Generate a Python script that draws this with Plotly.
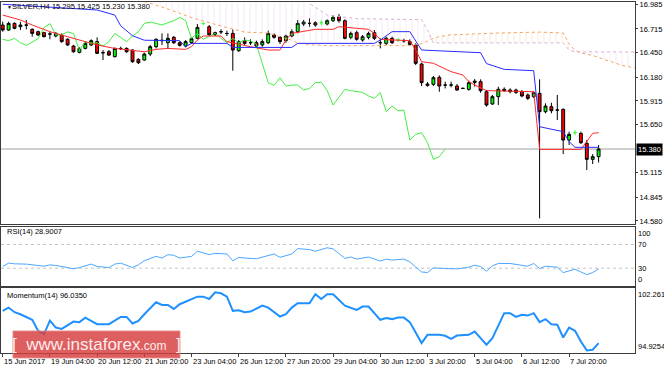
import numpy as np
import plotly.graph_objects as go

# ---------------- data ----------------
symbol = "SILVER,H4"
bars = list(range(102))
opens = [16.759, 16.703, 16.777, 16.740, 16.760, 16.711, 16.685, 16.674, 16.660, 16.637,
         16.648, 16.600, 16.525, 16.455, 16.499, 16.537, 16.574, 16.452, 16.462, 16.407,
         16.499, 16.499, 16.481, 16.377, 16.370, 16.436, 16.518, 16.590, 16.562, 16.622,
         16.562, 16.525, 16.562, 16.611, 16.775, 16.740, 16.674, 16.685, 16.666, 16.666,
         16.473, 16.585, 16.563, 16.562, 16.537, 16.562, 16.648, 16.622, 16.585, 16.637,
         16.685, 16.770, 16.778, 16.785, 16.785, 16.770, 16.807, 16.852, 16.807, 16.622,
         16.674, 16.592, 16.622, 16.674, 16.563, 16.555, 16.611, 16.592, 16.585, 16.574,
         16.537, 16.325, 16.103, 16.099, 16.177, 16.092, 16.092, 16.080, 16.055, 16.043,
         16.135, 16.129, 16.017, 15.881, 15.962, 16.044, 16.036, 16.036, 16.018, 15.981,
         15.962, 15.999, 15.795, 15.851, 15.814, 15.821, 15.480, 15.562, 15.554, 15.443,
         15.265, 15.295]
highs = [16.796, 16.796, 16.789, 16.796, 16.815, 16.722, 16.696, 16.685, 16.685, 16.681,
         16.666, 16.611, 16.537, 16.510, 16.570, 16.600, 16.622, 16.481, 16.481, 16.510,
         16.518, 16.510, 16.488, 16.388, 16.451, 16.537, 16.611, 16.666, 16.666, 16.637,
         16.577, 16.592, 16.622, 16.770, 16.790, 16.759, 16.685, 16.711, 16.696, 16.711,
         16.592, 16.622, 16.600, 16.585, 16.600, 16.696, 16.666, 16.637, 16.651, 16.711,
         16.815, 16.815, 16.833, 16.800, 16.815, 16.822, 16.870, 16.881, 16.822, 16.685,
         16.696, 16.648, 16.685, 16.703, 16.611, 16.629, 16.629, 16.614, 16.607, 16.600,
         16.555, 16.340, 16.125, 16.192, 16.199, 16.129, 16.129, 16.103, 16.062, 16.140,
         16.158, 16.155, 16.036, 15.981, 16.073, 16.066, 16.055, 16.051, 16.036, 15.999,
         16.021, 16.155, 15.888, 15.895, 15.981, 15.832, 15.573, 15.591, 15.573, 15.480,
         15.324, 15.425]
lows = [16.685, 16.696, 16.711, 16.703, 16.711, 16.629, 16.637, 16.622, 16.600, 16.622,
        16.562, 16.525, 16.451, 16.444, 16.488, 16.525, 16.436, 16.370, 16.414, 16.399,
        16.481, 16.451, 16.340, 16.325, 16.362, 16.414, 16.499, 16.537, 16.499, 16.548,
        16.518, 16.510, 16.548, 16.600, 16.760, 16.637, 16.637, 16.659, 16.637, 16.251,
        16.462, 16.537, 16.537, 16.510, 16.518, 16.548, 16.607, 16.548, 16.562, 16.622,
        16.666, 16.748, 16.740, 16.740, 16.755, 16.755, 16.792, 16.785, 16.600, 16.600,
        16.585, 16.574, 16.600, 16.592, 16.499, 16.537, 16.548, 16.570, 16.562, 16.533,
        16.314, 16.080, 16.073, 16.080, 16.017, 16.054, 16.066, 16.029, 16.047, 16.029,
        16.073, 16.006, 15.851, 15.870, 15.870, 16.014, 15.999, 15.992, 15.955, 15.925,
        15.947, 14.609, 15.777, 15.777, 15.703, 15.324, 15.425, 15.532, 15.436, 15.146,
        15.213, 15.230]
closes = [16.703, 16.777, 16.722, 16.759, 16.757, 16.666, 16.648, 16.629, 16.658, 16.666,
          16.574, 16.537, 16.462, 16.499, 16.555, 16.585, 16.444, 16.450, 16.425, 16.499,
          16.497, 16.462, 16.351, 16.340, 16.436, 16.518, 16.600, 16.585, 16.611, 16.562,
          16.533, 16.574, 16.607, 16.733, 16.775, 16.651, 16.651, 16.683, 16.664, 16.481,
          16.574, 16.555, 16.562, 16.525, 16.574, 16.666, 16.622, 16.574, 16.637, 16.685,
          16.777, 16.792, 16.777, 16.759, 16.785, 16.807, 16.844, 16.807, 16.611, 16.666,
          16.600, 16.629, 16.666, 16.611, 16.562, 16.611, 16.562, 16.592, 16.584, 16.544,
          16.333, 16.118, 16.088, 16.173, 16.080, 16.091, 16.091, 16.036, 16.054, 16.118,
          16.122, 16.029, 15.869, 15.962, 16.044, 16.029, 16.018, 16.010, 15.970, 15.944,
          16.007, 15.795, 15.858, 15.806, 15.813, 15.480, 15.543, 15.562, 15.450, 15.265,
          15.295, 15.380]

x_tick_bars = [0, 8, 16, 24, 32, 40, 48, 56, 64, 72, 80, 88, 96]
x_tick_labels = ["15 Jun 2017", "19 Jun 04:00", "20 Jun 12:00", "21 Jun 20:00",
                 "23 Jun 04:00", "26 Jun 12:00", "27 Jun 20:00", "29 Jun 04:00",
                 "30 Jun 12:00", "3 Jul 20:00", "5 Jul 04:00", "6 Jul 12:00", "7 Jul 20:00"]
price_ticks = [16.985, 16.715, 16.450, 16.180, 15.915, 15.650, 15.115, 14.845, 14.580]

# Ichimoku lines
tenkan_x = [0, 3, 5, 8, 11, 14, 16, 19, 22, 24, 26, 28, 31, 32, 33, 34, 37, 38, 42, 45,
            47, 48, 49, 51, 53, 56, 57, 62, 63, 64, 69, 70, 71, 73, 75, 76, 78, 79, 80, 82,
            90, 91, 98, 99, 100, 101]
tenkan_y = [16.870, 16.815, 16.759, 16.685, 16.629, 16.574, 16.537, 16.499, 16.481, 16.462,
            16.488, 16.499, 16.488, 16.518, 16.592, 16.637, 16.637, 16.574, 16.518, 16.481,
            16.481, 16.592, 16.666, 16.685, 16.711, 16.711, 16.740, 16.711, 16.666, 16.599,
            16.585, 16.481, 16.351, 16.333, 16.277, 16.240, 16.203, 16.130, 16.092, 16.029,
            16.018, 15.376, 15.376, 15.462, 15.554, 15.562]
kijun_x = [0, 11, 16, 19, 20, 22, 24, 30, 31, 32, 38, 39, 49, 50, 63, 64, 66, 69, 71, 81,
           82, 85, 90, 91, 94, 95, 96, 97, 101]
kijun_y = [16.990, 16.944, 16.926, 16.870, 16.750, 16.640, 16.590, 16.585, 16.518, 16.555,
           16.555, 16.510, 16.510, 16.555, 16.555, 16.592, 16.685, 16.685, 16.481, 16.451,
           16.330, 16.266, 16.251, 15.628, 15.591, 15.573, 15.462, 15.399, 15.399]
chikou_shift = 26
span_x = [23, 27, 30, 32, 38, 41, 45, 49, 50, 52, 55, 60, 69, 71, 72, 73, 74, 76, 84, 91,
          95, 96, 97, 98, 100, 105, 108]
span_a = [17.04, 16.96, 16.89, 16.84, 16.73, 16.68, 16.67, 16.59, 16.56, 16.54,
          16.53, 16.53, 16.53, 16.55, 16.58, 16.61, 16.63, 16.65, 16.67, 16.68,
          16.67, 16.55, 16.48, 16.45, 16.42, 16.31, 16.27]
span_b = [17.20, 17.20, 17.20, 17.20, 17.20, 17.20, 17.20, 17.20, 17.15, 17.00,
          16.87, 16.83, 16.82, 16.82, 16.70, 16.56, 16.56, 16.56, 16.56, 16.56,
          16.56, 16.48, 16.46, 16.46, 16.46, 16.46, 16.46]

# RSI(14)
rsi_x = [0, 1, 2, 4, 6, 7, 8, 9, 11, 12, 13, 15, 16, 18, 19, 20, 22, 23, 24, 26,
         27, 28, 29, 30, 32, 33, 35, 36, 38, 39, 40, 41, 43, 45, 46, 47, 49, 50, 52, 53,
         55, 56, 58, 59, 60, 62, 64, 65, 66, 68, 69, 70, 71, 72, 73, 75, 77, 79, 80, 81,
         82, 83, 84, 86, 88, 89, 90, 91, 92, 94, 95, 97, 98, 99, 100, 101]
rsi_y = [32.9, 38.6, 37.4, 36.9, 34.6, 33.4, 35.7, 34.6, 31.1, 28.9,
         31.1, 36.9, 32.9, 31.1, 36.9, 38.6, 31.1, 35.7, 42.6, 50.0,
         47.1, 52.9, 51.7, 47.1, 50.0, 58.6, 52.9, 55.1, 54.0, 42.6,
         48.3, 47.1, 46.0, 51.7, 54.0, 48.3, 54.0, 63.1, 61.4, 58.6,
         64.5, 62.6, 46.6, 48.9, 45.4, 48.9, 42.0, 45.4, 43.7, 45.4,
         40.9, 32.0, 23.7, 22.6, 30.6, 29.4, 28.9, 31.7, 35.1, 32.9,
         24.9, 34.0, 38.0, 38.0, 35.1, 33.4, 38.0, 29.4, 33.4, 31.7,
         22.6, 28.3, 23.7, 19.1, 22.6, 28.9007]
rsi_levels = [70, 30]
rsi_scale_labels = [100, 70, 30, 0]

# Momentum(14)
mom_x = [0, 1, 2, 3, 5, 6, 7, 8, 9, 10, 12, 13, 14, 16, 18, 20, 21, 22, 23, 24,
         26, 27, 28, 29, 30, 32, 33, 34, 35, 36, 37, 38, 39, 40, 41, 42, 44, 45, 47, 48,
         49, 50, 52, 53, 54, 55, 56, 58, 60, 61, 62, 64, 65, 66, 67, 68, 69, 71, 72, 74,
         75, 76, 77, 79, 80, 81, 82, 83, 85, 86, 87, 88, 89, 90, 91, 92, 93, 94, 95, 96,
         97, 98, 99, 100, 101]
mom_y = [99.68, 100.05, 99.53, 99.30, 98.67, 97.43, 97.06, 98.59, 97.80, 97.65,
         98.47, 98.41, 98.92, 98.18, 98.18, 99.00, 99.00, 98.25, 98.55, 99.30,
         100.65, 100.35, 100.35, 99.90, 100.43, 101.02, 101.28, 101.28, 101.02, 101.78,
         101.66, 101.28, 99.68, 99.75, 99.53, 99.60, 100.27, 100.05, 99.04, 99.30,
         100.05, 100.54, 100.54, 101.55, 101.02, 101.55, 101.55, 100.27, 99.79, 100.16,
         100.16, 98.67, 98.86, 98.75, 98.92, 98.92, 98.41, 96.05, 96.98, 96.98,
         96.87, 96.53, 96.90, 96.98, 97.35, 96.60, 95.86, 96.60, 99.42, 99.42,
         99.00, 99.23, 99.15, 99.42, 98.41, 98.75, 98.18, 98.11, 96.68, 97.80,
         97.43, 96.23, 95.22, 95.30, 96.035]
mom_scale_labels = [102.2612, 94.9254]

# ---------------- figure ----------------
FRAME = "#3c3c3c"
FONT = "Liberation Sans, Arial, sans-serif"
xr = [-0.29, 107.17]

fig = go.Figure()

# Ichimoku cloud (hatched)
sa = np.array(span_a)
sb = np.array(span_b)
upper = np.maximum(sa, sb)
fig.add_trace(go.Scatter(x=span_x, y=sb, mode="lines", line=dict(width=0), hoverinfo="skip"))
fig.add_trace(go.Scatter(x=span_x, y=upper, mode="lines", line=dict(width=0), fill="tonexty",
                         fillcolor="rgba(0,0,0,0)",
                         fillpattern=dict(shape="|", fgcolor="rgba(244,164,96,0.55)", size=6,
                                          solidity=0.15, fillmode="overlay"),
                         hoverinfo="skip"))
fig.add_trace(go.Scatter(x=span_x, y=sa, mode="lines", line=dict(width=0), hoverinfo="skip"))
fig.add_trace(go.Scatter(x=span_x, y=upper, mode="lines", line=dict(width=0), fill="tonexty",
                         fillcolor="rgba(0,0,0,0)",
                         fillpattern=dict(shape="|", fgcolor="rgba(216,176,216,0.55)", size=6,
                                          solidity=0.15, fillmode="overlay"),
                         hoverinfo="skip"))
fig.add_trace(go.Scatter(x=span_x, y=span_a, mode="lines",
                         line=dict(color="#f4a460", width=1, dash="dot"), hoverinfo="skip"))
fig.add_trace(go.Scatter(x=span_x, y=span_b, mode="lines",
                         line=dict(color="#d8b0d8", width=1, dash="dot"), hoverinfo="skip"))

# Chikou, Tenkan, Kijun
fig.add_trace(go.Scatter(x=bars[:len(closes) - chikou_shift], y=closes[chikou_shift:], mode="lines",
                         line=dict(color="#44ee44", width=1), hoverinfo="skip"))
fig.add_trace(go.Scatter(x=tenkan_x, y=tenkan_y, mode="lines",
                         line=dict(color="#ff2a2a", width=1), hoverinfo="skip"))
fig.add_trace(go.Scatter(x=kijun_x, y=kijun_y, mode="lines",
                         line=dict(color="#2a2aff", width=1), hoverinfo="skip"))

# Candles
o = np.array(opens); h = np.array(highs); l = np.array(lows); c = np.array(closes); xb = np.array(bars)
reg = o != c
doji = ~reg
fig.add_trace(go.Candlestick(x=xb[reg], open=o[reg], high=h[reg], low=l[reg], close=c[reg],
                             increasing=dict(line=dict(color="#000000", width=1), fillcolor="#00ff00"),
                             decreasing=dict(line=dict(color="#000000", width=1), fillcolor="#ff0000"),
                             whiskerwidth=0, hoverinfo="skip"))
fig.add_trace(go.Candlestick(x=xb[doji], open=o[doji], high=h[doji], low=l[doji], close=c[doji],
                             increasing=dict(line=dict(color="#33ff33", width=1), fillcolor="#33ff33"),
                             decreasing=dict(line=dict(color="#33ff33", width=1), fillcolor="#33ff33"),
                             whiskerwidth=0, hoverinfo="skip"))

# RSI
fig.add_trace(go.Scatter(x=rsi_x, y=rsi_y, mode="lines", line=dict(color="#4da6ff", width=1),
                         xaxis="x2", yaxis="y2", hoverinfo="skip"))
# Momentum
fig.add_trace(go.Scatter(x=mom_x, y=mom_y, mode="lines", line=dict(color="#1e90ff", width=2),
                         xaxis="x3", yaxis="y3", hoverinfo="skip"))

shapes = []
# bid line
shapes.append(dict(type="line", xref="x domain", yref="y", x0=0, x1=1, y0=closes[-1], y1=closes[-1],
                   line=dict(color="#a0a0a0", width=1), layer="below"))
for lv in rsi_levels:
    shapes.append(dict(type="line", xref="x2 domain", yref="y2", x0=0, x1=1, y0=lv, y1=lv,
                       line=dict(color="#c4c4c4", width=1, dash="3px,3px"), layer="below"))
# watermark box
shapes.append(dict(type="rect", xref="paper", yref="paper", x0=0.0189, x1=0.2823, y0=-0.0142, y1=0.0627,
                   fillcolor="rgba(214,60,60,0.82)", line=dict(color="rgba(230,140,140,0.9)", width=1),
                   layer="above"))

anns = []
last = [opens[-1], highs[-1], lows[-1], closes[-1]]
anns.append(dict(text="▼", xref="paper", yref="paper", x=0.006, y=0.9866, xanchor="left", yanchor="middle",
                 showarrow=False, font=dict(size=5, color="#000")))
anns.append(dict(text=symbol + " " + " ".join(f"{v:.3f}" for v in last), xref="paper", yref="paper",
                 x=0.0142, y=0.9866, xanchor="left", yanchor="middle", showarrow=False,
                 font=dict(size=7.5, color="#000")))
anns.append(dict(text=f"RSI(14) {rsi_y[-1]:.4f}", xref="paper", yref="paper", x=0.006, y=0.3456,
                 xanchor="left", yanchor="middle", showarrow=False, font=dict(size=7.5, color="#000")))
anns.append(dict(text=f"Momentum(14) {mom_y[-1]:.4f}", xref="paper", yref="paper", x=0.006, y=0.1652,
                 xanchor="left", yanchor="middle", showarrow=False, font=dict(size=7.5, color="#000")))
for i, v in enumerate(rsi_scale_labels):
    ya = "top" if i == 0 else ("bottom" if i == len(rsi_scale_labels) - 1 else "middle")
    anns.append(dict(text=f"{v}", xref="paper", yref="y2", x=1, y=v, xanchor="left", yanchor=ya,
                     xshift=1, showarrow=False, font=dict(size=7.5, color="#000")))
for i, v in enumerate(mom_scale_labels):
    anns.append(dict(text=f"{v:.4f}", xref="paper", yref="y3", x=1, y=v, xanchor="left",
                     yanchor="top" if i == 0 else "bottom", xshift=1, showarrow=False,
                     font=dict(size=7.5, color="#000")))
anns.append(dict(text=f"{closes[-1]:.3f}", xref="paper", yref="y", x=1, y=closes[-1], xanchor="left",
                 yanchor="middle", xshift=1, showarrow=False, bgcolor="#000000", borderpad=1,
                 font=dict(size=7.5, color="#ffffff")))
for xv, txt in zip(x_tick_bars, x_tick_labels):
    anns.append(dict(text=txt, xref="x3", yref="paper", x=xv, y=-0.0256, xanchor="left",
                     yanchor="middle", xshift=-1, showarrow=False, font=dict(size=7.5, color="#000")))
anns.append(dict(text="[&nbsp;&nbsp;www.instaforex<span style='font-size:12px'>.com</span>&nbsp;&nbsp;]",
                 xref="paper", yref="paper", x=0.1506, y=0.0242, xanchor="center", yanchor="middle",
                 showarrow=False, font=dict(size=17, color="rgba(255,236,236,1)", family=FONT)))

axc = dict(showgrid=False, zeroline=False, showline=True, mirror=True, linecolor=FRAME, linewidth=1)
fig.update_layout(
    width=664, height=369, margin=dict(l=1, r=29, t=2, b=16),
    paper_bgcolor="white", plot_bgcolor="white", showlegend=False,
    font=dict(family=FONT, size=7.5, color="#000"),
    xaxis=dict(domain=[0, 1], anchor="y", range=xr, showticklabels=False, ticks="",
               rangeslider=dict(visible=False), **axc),
    yaxis=dict(domain=[0.3675, 1], anchor="x", range=[14.546, 17.015], side="right",
               tickvals=price_ticks, ticktext=[f"{v:.3f}" for v in price_ticks],
               ticks="outside", ticklen=2, tickcolor=FRAME, **axc),
    xaxis2=dict(domain=[0, 1], anchor="y2", range=xr, showticklabels=False, ticks="", **axc),
    yaxis2=dict(domain=[0.1909, 0.3598], anchor="x2", range=[0, 100], side="right",
                showticklabels=False, ticks="", **axc),
    xaxis3=dict(domain=[0, 1], anchor="y3", range=xr, tickvals=x_tick_bars, showticklabels=False,
                ticks="outside", ticklen=3, tickcolor=FRAME, **axc),
    yaxis3=dict(domain=[0, 0.1852], anchor="x3", range=[mom_scale_labels[1], mom_scale_labels[0]],
                side="right", showticklabels=False, ticks="", **axc),
    shapes=shapes, annotations=anns,
)

fig.write_html("out.html", config={"displayModeBar": False},
               post_script="document.body.style.margin='0';")
